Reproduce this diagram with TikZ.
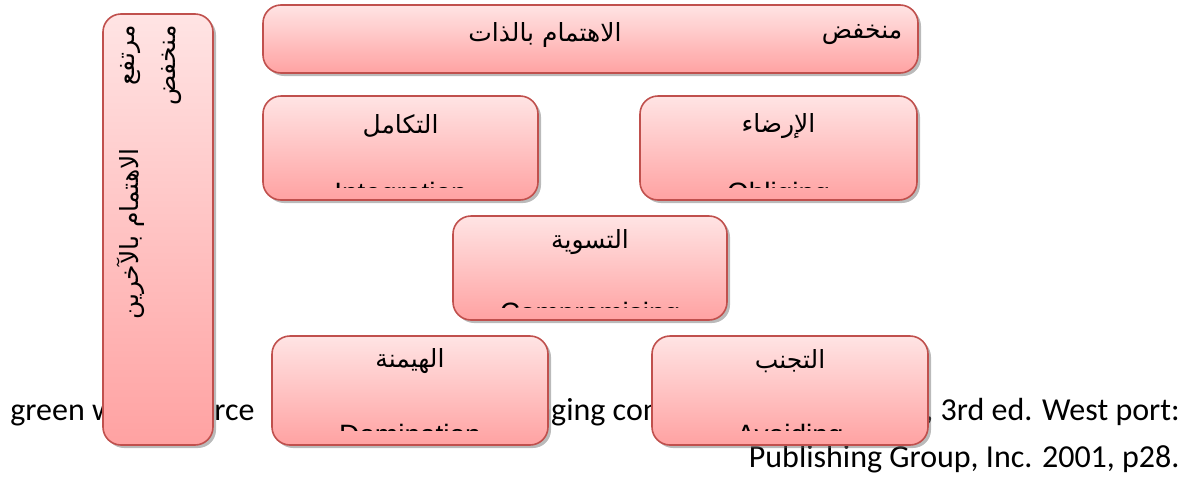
\documentclass[tikz,border=0pt]{standalone}
\usepackage{fontspec}
\setmainfont{Carlito}
\newfontfamily\arabicfont[Script=Arabic]{DejaVu Sans}
\newfontfamily\boxlatin{Liberation Sans}
\TeXXeTstate=1
\usetikzlibrary{shadows,calc}
\definecolor{blush}{RGB}{255,228,228}
\definecolor{salmon}{RGB}{255,162,162}
\definecolor{rim}{RGB}{192,80,77}
\tikzset{
  card/.style={draw=rim,thick,rounded corners=9pt,top color=blush,bottom color=salmon,
    inner sep=0pt,
    drop shadow={shadow xshift=1.5pt,shadow yshift=-1.5pt,opacity=0.45,fill=black!60}},
  ar/.style={font=\arabicfont\fontsize{12.5}{14}\selectfont,inner sep=0pt},
  en/.style={font=\boxlatin\fontsize{14}{16}\selectfont,inner sep=0pt,text depth=0pt},
  src/.style={font=\fontsize{16}{19}\selectfont,inner sep=0pt},
}

\begin{document}
\begin{tikzpicture}[x=0.5pt,y=-0.5pt]
  \useasboundingbox (0,0) rectangle (1188,493);
  % source line behind the boxes
  \node[src,anchor=base west] (s1) at (10,420) {green wood};
  \node[src,anchor=base east] (s2) at (255,420) {Source};
  \node[src,anchor=base west] (s3) at (476,420) {Managing conflict};
  \node[src,anchor=base east] (s4) at (1180,420) {, 3rd ed. West port:};
  \node[src,anchor=base east] (s5) at (1180,467) {Publishing Group, Inc. 2001, p28.};
  % boxes
  \node[card,minimum width=55pt,minimum height=215.5pt] (others) at (158,229.5) {};
  \node[card,minimum width=327.5pt,minimum height=34pt] (self) at (590.5,39) {};
  \node[card,minimum width=137.5pt,minimum height=52pt] (integ) at (400.5,148) {};
  \node[card,minimum width=138.5pt,minimum height=52pt] (oblig) at (778.5,148) {};
  \node[card,minimum width=137pt,minimum height=52pt] (comp) at (590,268) {};
  \node[card,minimum width=138pt,minimum height=54.5pt] (dom) at (410,390.5) {};
  \node[card,minimum width=138pt,minimum height=54.5pt] (avoid) at (790,390.5) {};
  % arabic labels
  \node[ar] (low) at (862,35) {\beginR منخفض\endR};
  \node[ar] (selfname) at (545,35) {\beginR الاهتمام بالذات\endR};
  \node[ar] (integname) at ($(integ.north)+(0,31)$) {\beginR التكامل\endR};
  \node[ar] (obligname) at ($(oblig.north)+(0,31)$) {\beginR الإرضاء\endR};
  \node[ar] (compname) at ($(comp.north)+(0,27)$) {\beginR التسوية\endR};
  \node[ar] (domname) at ($(dom.north)+(0,26)$) {\beginR الهيمنة\endR};
  \node[ar] (avoidname) at ($(avoid.north)+(0,26)$) {\beginR التجنب\endR};
  \node[ar,rotate=90,anchor=east] (high2) at (131,25) {\beginR مرتفع\endR};
  \node[ar,rotate=90,anchor=east] (othersname) at (131,148) {\beginR الاهتمام بالآخرين\endR};
  \node[ar,rotate=90,anchor=east] (low2) at (172,25) {\beginR منخفض\endR};
  % english names, cut off by the box
  \foreach \nm/\word/\top/\cut in {integ/Integration/87/92,oblig/Obliging/87/92,
      comp/Compromising/87/92,dom/Domination/89/95,avoid/Avoiding/89/95}{
    \begin{scope}
      \clip (\nm.north west) rectangle ($(\nm.north east)+(0,\cut)$);
      \node[en,anchor=north] at ($(\nm.north)+(0,\top)$) {\word};
    \end{scope}
  }
\end{tikzpicture}
\end{document}
